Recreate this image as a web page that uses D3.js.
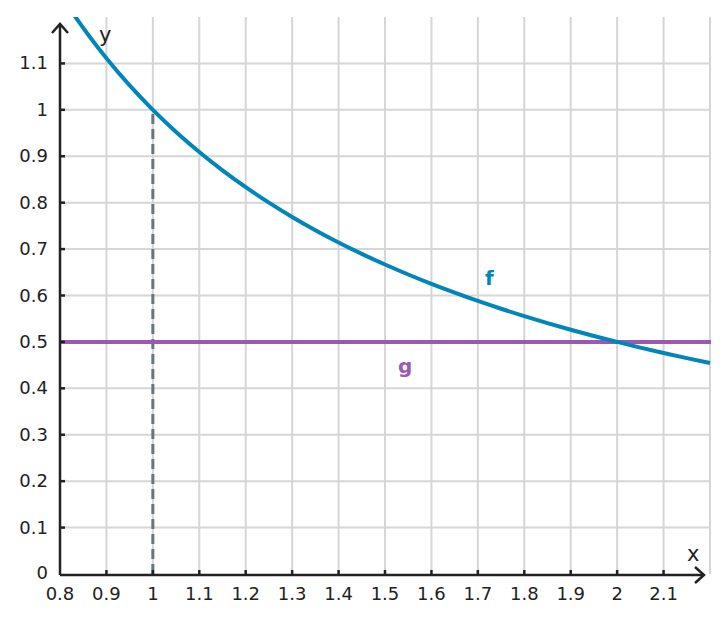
<!DOCTYPE html>
<html>
<head>
<meta charset="utf-8">
<script src="https://cdn.jsdelivr.net/npm/d3@7"></script>
<style>
  body { margin: 0; background: #fff; }
  svg { font-family: "DejaVu Sans", sans-serif; }
</style>
</head>
<body>
<svg id="chart" width="728" height="623"></svg>
<script>
// tick values
const xTicks = [0.8, 0.9, 1, 1.1, 1.2, 1.3, 1.4, 1.5, 1.6, 1.7, 1.8, 1.9, 2, 2.1];
const xGrid = [0.9, 1, 1.1, 1.2, 1.3, 1.4, 1.5, 1.6, 1.7, 1.8, 1.9, 2, 2.1, 2.2];
const yTicks = [0, 0.1, 0.2, 0.3, 0.4, 0.5, 0.6, 0.7, 0.8, 0.9, 1, 1.1];
const yGrid = [0.1, 0.2, 0.3, 0.4, 0.5, 0.6, 0.7, 0.8, 0.9, 1, 1.1];

// f(x) = 1/x sampled points, g = 0.5
const fX = [0.8, 0.82, 0.84, 0.86, 0.88, 0.9, 0.95, 1, 1.05, 1.1, 1.15, 1.2, 1.25, 1.3, 1.35, 1.4, 1.45, 1.5, 1.55, 1.6, 1.65, 1.7, 1.75, 1.8, 1.85, 1.9, 1.95, 2, 2.05, 2.1, 2.15, 2.2];
const fY = [1.25, 1.2195, 1.1905, 1.1628, 1.1364, 1.1111, 1.0526, 1, 0.9524, 0.9091, 0.8696, 0.8333, 0.8, 0.7692, 0.7407, 0.7143, 0.6897, 0.6667, 0.6452, 0.625, 0.6061, 0.5882, 0.5714, 0.5556, 0.5405, 0.5263, 0.5128, 0.5, 0.4878, 0.4762, 0.4651, 0.4545];
const gY = 0.5;
const dashX = 1, dashTop = 1;

const svg = d3.select("#chart");
const pL = 60, pR = 710, pT = 17, pB = 574;

const x = d3.scaleLinear().domain([0.8, 2.2]).range([pL, pR]);
const y = d3.scaleLinear().domain([0, 1.2]).range([pB, pT]);

const fCol = "#0086b8", gCol = "#9b59b6", axisCol = "#222";

svg.append("defs").append("clipPath").attr("id", "plot")
  .append("rect").attr("x", pL).attr("y", pT).attr("width", pR - pL + 1).attr("height", pB - pT);

// grid
const grid = svg.append("g").attr("stroke", "#d6d6d6").attr("stroke-width", 2);
grid.selectAll(".gx").data(xGrid).enter().append("line")
  .attr("x1", d => x(d)).attr("x2", d => x(d)).attr("y1", pT).attr("y2", pB);
grid.selectAll(".gy").data(yGrid).enter().append("line")
  .attr("x1", pL).attr("x2", pR + 1).attr("y1", d => y(d)).attr("y2", d => y(d));

// dashed line at x = 1
svg.append("line")
  .attr("x1", x(dashX)).attr("x2", x(dashX)).attr("y1", y(0)).attr("y2", y(dashTop))
  .attr("stroke", "#68747e").attr("stroke-width", 3).attr("stroke-dasharray", "10,5");

// g
svg.append("line")
  .attr("x1", pL).attr("x2", pR + 1).attr("y1", y(gY)).attr("y2", y(gY))
  .attr("stroke", gCol).attr("stroke-width", 4);

// f
const line = d3.line().x((d, i) => x(fX[i])).y(d => y(d)).curve(d3.curveMonotoneX);
svg.append("path").datum(fY)
  .attr("clip-path", "url(#plot)")
  .attr("d", line)
  .attr("fill", "none").attr("stroke", fCol).attr("stroke-width", 4);

// axes
const ax = svg.append("g").attr("stroke", axisCol).attr("stroke-width", 2.5).attr("fill", "none");
ax.append("line").attr("x1", pL).attr("x2", 704).attr("y1", pB + 1).attr("y2", pB + 1);
ax.append("line").attr("x1", pL).attr("x2", pL).attr("y1", pB + 1).attr("y2", 25);
ax.append("path").attr("d", `M${695},${pB - 7}L${704},${pB + 1}L${695},${pB + 9}`);
ax.append("path").attr("d", `M${pL - 8},${33}L${pL},${24}L${pL + 8},${33}`);

// ticks
ax.selectAll(".tx").data(xTicks.slice(1)).enter().append("line")
  .attr("x1", d => x(d)).attr("x2", d => x(d)).attr("y1", pB - 4).attr("y2", pB + 1);
ax.selectAll(".ty").data(yTicks.slice(1)).enter().append("line")
  .attr("x1", pL).attr("x2", pL + 5).attr("y1", d => y(d)).attr("y2", d => y(d));

// tick labels
svg.selectAll(".lx").data(xTicks).enter().append("text")
  .attr("x", d => x(d)).attr("y", pB + 26)
  .attr("text-anchor", "middle").attr("font-size", 18).attr("fill", axisCol)
  .text(d => d);
svg.selectAll(".ly").data(yTicks).enter().append("text")
  .attr("x", 48).attr("y", d => d === 0 ? y(d) + 5 : y(d) + 6)
  .attr("text-anchor", "end").attr("font-size", 18).attr("fill", axisCol)
  .text(d => d);

// axis names
svg.append("text").attr("x", 99).attr("y", 42).attr("font-size", 21).attr("fill", axisCol).text("y");
svg.append("text").attr("x", 687).attr("y", 561).attr("font-size", 21).attr("fill", axisCol).text("x");

// series labels
svg.append("text").attr("x", 485).attr("y", 285).attr("font-size", 20).attr("font-weight", "bold")
  .attr("fill", fCol).text("f");
svg.append("text").attr("x", 398).attr("y", 373).attr("font-size", 20).attr("font-weight", "bold")
  .attr("fill", gCol).text("g");
</script>
</body>
</html>
